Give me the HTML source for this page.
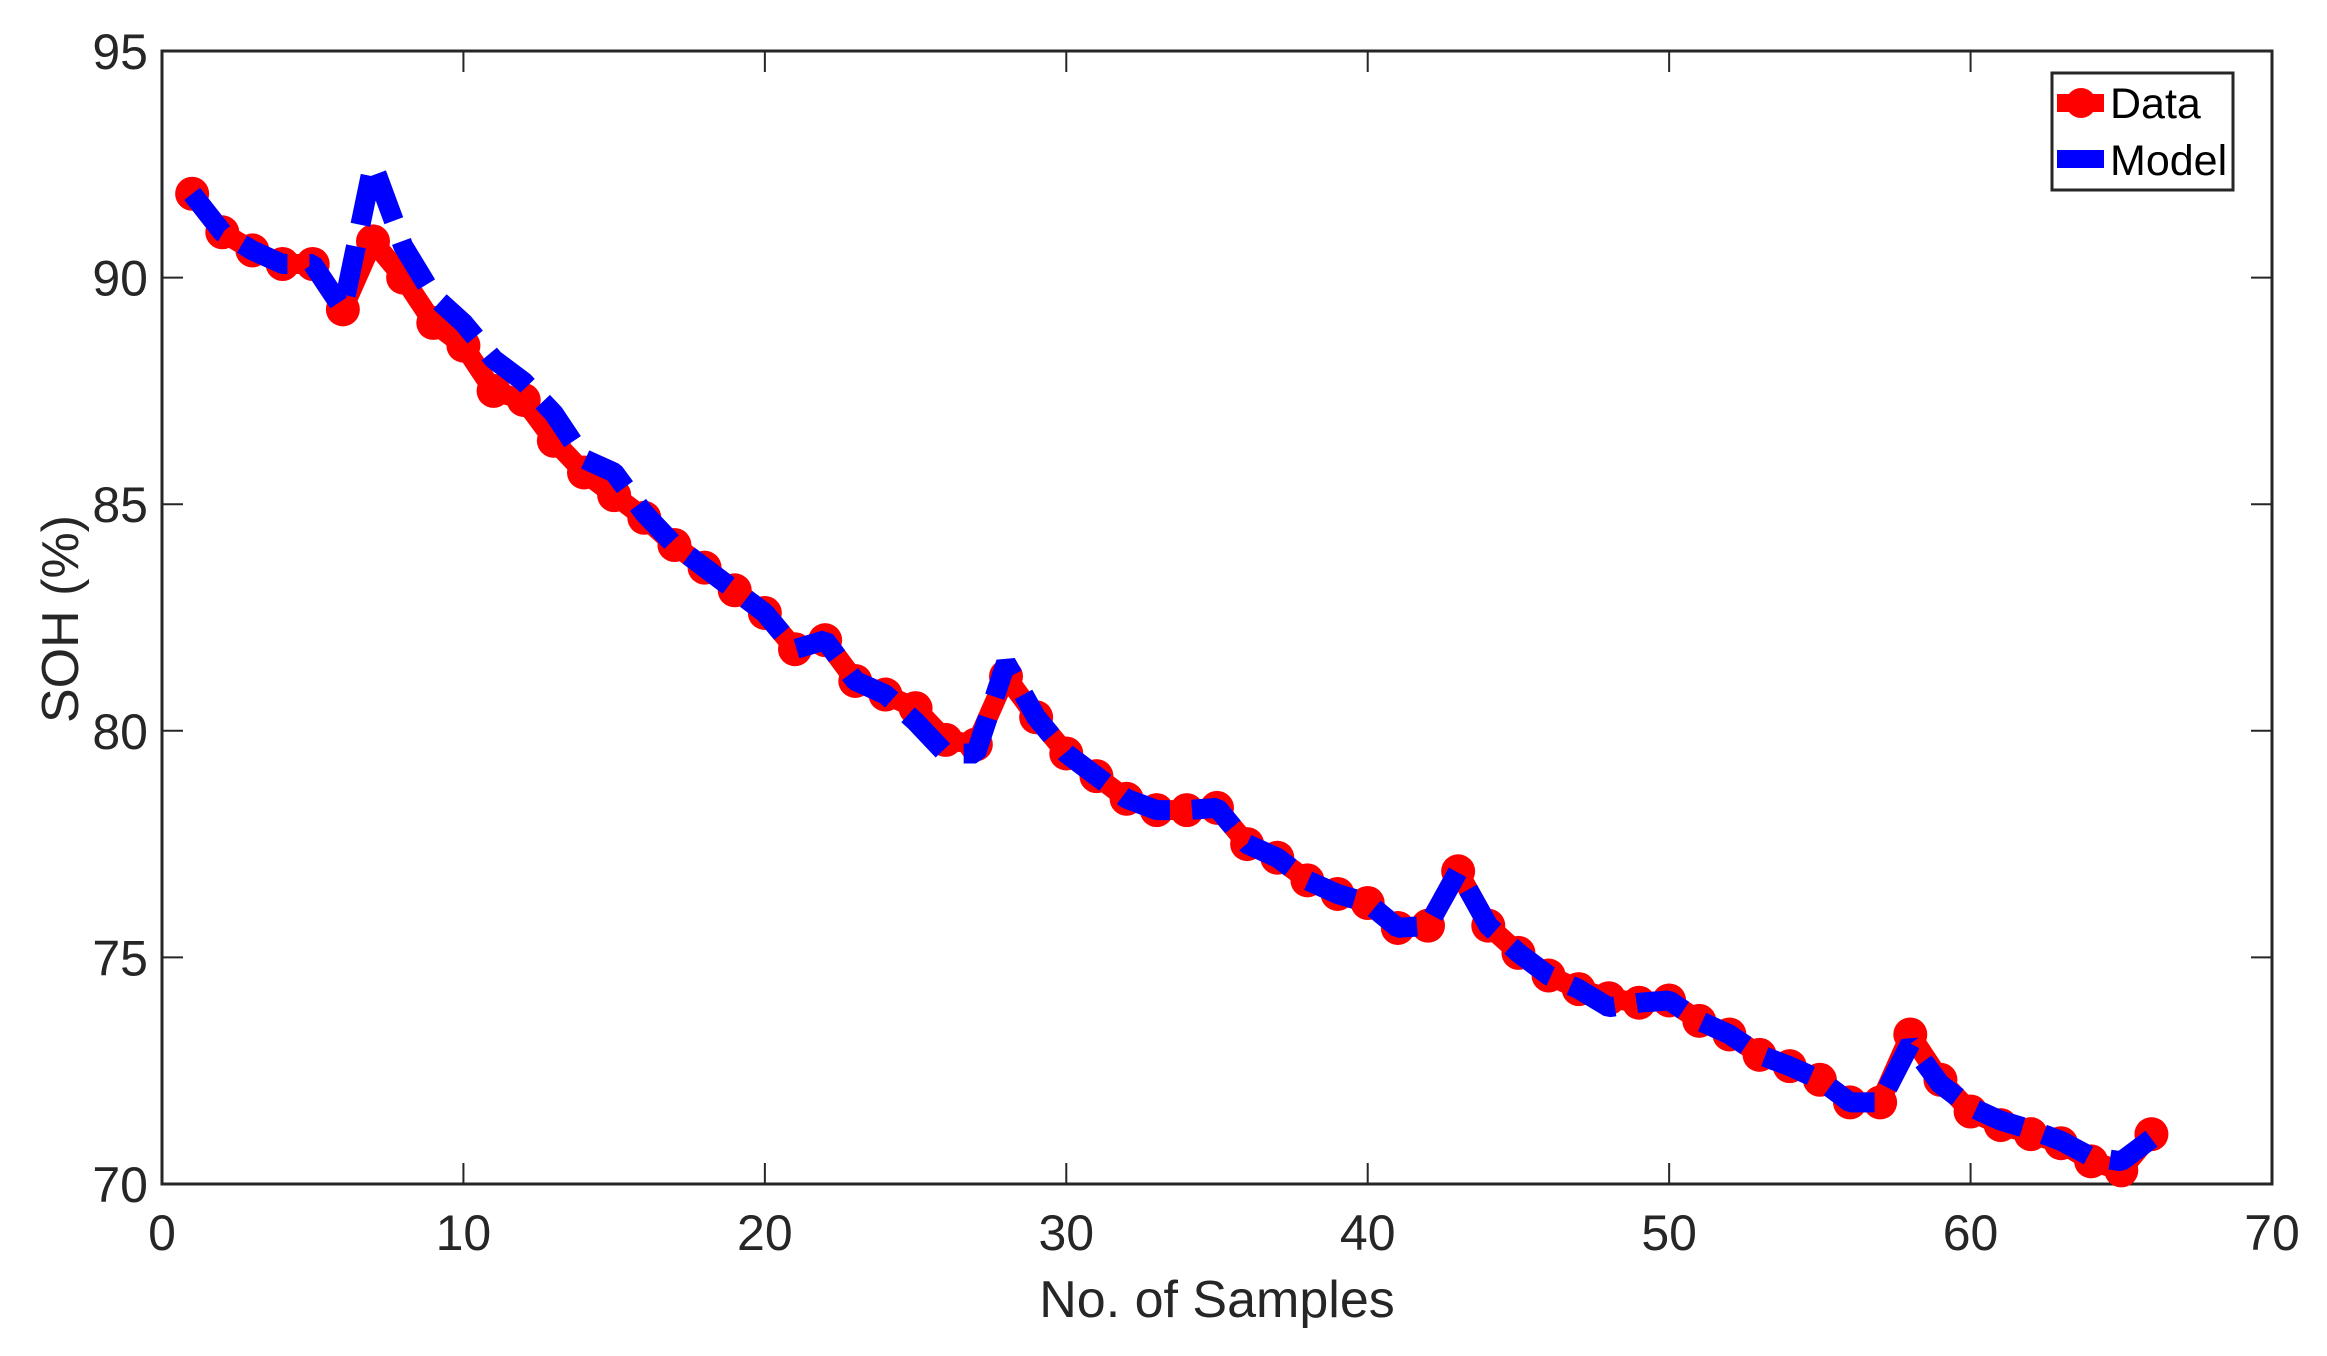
<!DOCTYPE html>
<html><head><meta charset="utf-8"><style>
html,body{margin:0;padding:0;background:#fff;}
svg{display:block;font-family:"Liberation Sans",Arial,sans-serif;}
</style></head><body>
<svg id="s" width="2327" height="1356" viewBox="0 0 2327 1356" xmlns="http://www.w3.org/2000/svg">
<rect width="2327" height="1356" fill="#fff"/>
<g id="ticks" stroke="#262626" stroke-width="2"></g>
<rect x="162" y="51" width="2110" height="1133" fill="none" stroke="#262626" stroke-width="3"/>
<g id="lbl" fill="#262626" font-size="50"></g>
<text x="1217" y="1317" font-size="52" fill="#262626" text-anchor="middle">No. of Samples</text>
<text transform="translate(78,619) rotate(-90)" font-size="52" fill="#262626" text-anchor="middle">SOH (%)</text>
<g id="data"></g>
<rect x="2052" y="73" width="181" height="117" fill="#fff" stroke="#262626" stroke-width="3"/>
<line x1="2057" y1="103" x2="2104" y2="103" stroke="#f00" stroke-width="18"/>
<circle cx="2081" cy="103" r="15" fill="#f00"/>
<line x1="2057" y1="159" x2="2104" y2="159" stroke="#00f" stroke-width="18"/>
<text x="2110" y="118" font-size="43" fill="#000">Data</text>
<text x="2110" y="175" font-size="43" fill="#000">Model</text>
</svg>
<script>
var L=162,R=2272,T=51,B=1184;
function X(v){return L+(v)*(R-L)/70;}
function Y(v){return B-(v-70)*(B-T)/25;}
var ns="http://www.w3.org/2000/svg";
var tk=document.getElementById("ticks"),lb=document.getElementById("lbl");
function el(p,n,a,t){var e=document.createElementNS(ns,n);for(var k in a)e.setAttribute(k,a[k]);if(t!==undefined)e.textContent=t;p.appendChild(e);return e;}
for(var i=0;i<=70;i+=10){var x=X(i);
 if(i>0&&i<70){el(tk,"line",{x1:x,y1:B,x2:x,y2:B-21});el(tk,"line",{x1:x,y1:T,x2:x,y2:T+21});}
 el(lb,"text",{x:x,y:B+66,"text-anchor":"middle"},String(i));}
for(var v=70;v<=95;v+=5){var y=Y(v);
 if(v>70&&v<95){el(tk,"line",{x1:L,y1:y,x2:L+21,y2:y});el(tk,"line",{x1:R,y1:y,x2:R-21,y2:y});}
 el(lb,"text",{x:L-14,y:y+18,"text-anchor":"end"},String(v));}
var d=[91.85,91.0,90.6,90.3,90.3,89.3,90.8,90.0,89.0,88.5,87.5,87.3,86.4,85.7,85.2,84.7,84.1,83.6,83.1,82.6,81.8,82.0,81.1,80.8,80.5,79.8,79.7,81.2,80.3,79.5,79.0,78.5,78.25,78.25,78.3,77.5,77.2,76.7,76.4,76.2,75.65,75.7,76.9,75.7,75.1,74.6,74.3,74.1,74.0,74.05,73.6,73.3,72.85,72.6,72.3,71.8,71.8,73.3,72.3,71.6,71.3,71.1,70.9,70.5,70.3,71.1];
var m=d.slice();
var over={7:92.5,8:90.7,9:89.6,10:89.0,11:88.2,12:87.7,13:87.0,14:86.0,15:85.7,16:84.8,25:80.2,26:79.5,27:79.5,28:81.5,48:73.9,58:73.1,59:72.2,60:71.7,61:71.4,62:71.2,63:70.95,64:70.6,65:70.5,66:71.0};
for(var k in over)m[k-1]=over[k];
var g=document.getElementById("data");
function pts(a){return a.map(function(v,i){return X(i+1).toFixed(1)+","+Y(v).toFixed(1);}).join(" ");}
el(g,"polyline",{points:pts(d),fill:"none",stroke:"#f00","stroke-width":20,"stroke-linejoin":"round"});
d.forEach(function(v,i){el(g,"circle",{cx:X(i+1),cy:Y(v),r:17,fill:"#f00"});});
el(g,"polyline",{points:pts(m),fill:"none",stroke:"#00f","stroke-width":20,"stroke-dasharray":"50 22","stroke-linejoin":"bevel"});
</script>
</body></html>
